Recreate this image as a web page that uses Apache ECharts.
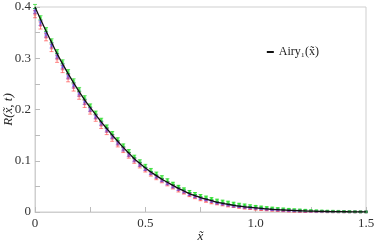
<!DOCTYPE html>
<html>
<head>
<meta charset="utf-8">
<script src="https://cdn.jsdelivr.net/npm/echarts@6/dist/echarts.min.js"></script>
<style>
  html, body { margin: 0; padding: 0; background: #fff; }
  #chart { width: 374px; height: 248px; }
</style>
</head>
<body>
<div id="chart"></div>
<script>
// x positions of the samples
const xs = [0, 0.025, 0.05, 0.075, 0.1, 0.125, 0.15, 0.175, 0.2, 0.225,
  0.25, 0.275, 0.3, 0.325, 0.35, 0.375, 0.4, 0.425, 0.45, 0.475,
  0.5, 0.525, 0.55, 0.575, 0.6, 0.625, 0.65, 0.675, 0.7, 0.725,
  0.75, 0.775, 0.8, 0.825, 0.85, 0.875, 0.9, 0.925, 0.95, 0.975,
  1.0, 1.025, 1.05, 1.075, 1.1, 1.125, 1.15, 1.175, 1.2, 1.225,
  1.25, 1.275, 1.3, 1.325, 1.35, 1.375, 1.4, 1.425, 1.45, 1.475, 1.5]

// Airy_1 reference curve
const airyY = [0.400, 0.376, 0.353, 0.331, 0.309, 0.289, 0.270, 0.252, 0.235, 0.219,
  0.204, 0.190, 0.176, 0.163, 0.150, 0.138, 0.126, 0.115, 0.104, 0.095,
  0.086, 0.078, 0.071, 0.064, 0.058, 0.052, 0.046, 0.041, 0.036, 0.032,
  0.028, 0.025, 0.022, 0.019, 0.017, 0.015, 0.013, 0.0115, 0.010, 0.009,
  0.008, 0.007, 0.006, 0.0052, 0.0045, 0.0039, 0.0033, 0.0028, 0.0024, 0.0020,
  0.0017, 0.0014, 0.0012, 0.0010, 0.0008, 0.0006, 0.0005, 0.0004, 0.0003, 0.0002,
  0.0002]

// simulation data (three runs)
const redY = [0.386, 0.364, 0.341, 0.320, 0.299, 0.279, 0.261, 0.243, 0.227, 0.211,
  0.197, 0.183, 0.169, 0.157, 0.144, 0.132, 0.121, 0.110, 0.100, 0.091,
  0.082, 0.074, 0.067, 0.061, 0.055, 0.049, 0.043, 0.038, 0.033, 0.029,
  0.025, 0.022, 0.019, 0.017, 0.015, 0.013, 0.011, 0.0095, 0.008, 0.007,
  0.006, 0.005, 0.0045, 0.0038, 0.0032, 0.0027, 0.0022, 0.0018, 0.0015, 0.0012,
  0.0010, 0.0008, 0.0007, 0.0005, 0.0004, 0.0003, 0.0002, 0.0002, 0.0001, 0.0001,
  0.0001]
const blueY = [0.392, 0.369, 0.346, 0.325, 0.304, 0.284, 0.265, 0.247, 0.231, 0.215,
  0.200, 0.186, 0.173, 0.160, 0.147, 0.135, 0.123, 0.112, 0.102, 0.093,
  0.084, 0.076, 0.069, 0.062, 0.056, 0.050, 0.045, 0.040, 0.035, 0.031,
  0.027, 0.024, 0.021, 0.018, 0.016, 0.014, 0.012, 0.011, 0.0095, 0.0085,
  0.0075, 0.0065, 0.0056, 0.0048, 0.0042, 0.0036, 0.0031, 0.0026, 0.0022, 0.0019,
  0.0016, 0.0013, 0.0011, 0.0009, 0.0007, 0.0006, 0.0005, 0.0004, 0.0003, 0.0002,
  0.0002]
const greenY = [0.401, 0.379, 0.356, 0.334, 0.313, 0.293, 0.274, 0.256, 0.239, 0.223,
  0.208, 0.194, 0.180, 0.167, 0.154, 0.142, 0.130, 0.119, 0.108, 0.099,
  0.090, 0.082, 0.075, 0.068, 0.062, 0.056, 0.050, 0.045, 0.040, 0.036,
  0.032, 0.029, 0.026, 0.023, 0.021, 0.019, 0.017, 0.015, 0.0135, 0.012,
  0.011, 0.0098, 0.0087, 0.0077, 0.0068, 0.006, 0.0052, 0.0045, 0.0039, 0.0034,
  0.0029, 0.0025, 0.0021, 0.0018, 0.0015, 0.0012, 0.001, 0.0008, 0.0006, 0.0004,
  0.0003]

// error bar half heights
const redErr = [0.007, 0.007, 0.007, 0.007, 0.007, 0.007, 0.007, 0.007, 0.007, 0.007,
  0.006, 0.006, 0.006, 0.006, 0.006, 0.005, 0.005, 0.005, 0.005, 0.005,
  0.004, 0.004, 0.004, 0.004, 0.004, 0.004, 0.004, 0.003, 0.003, 0.003,
  0.003, 0.003, 0.003, 0.003, 0.003, 0.003, 0.002, 0.002, 0.002, 0.002,
  0.002, 0.002, 0.002, 0.002, 0.002, 0.002, 0.002, 0.002, 0.002, 0.002,
  0.001, 0.001, 0.001, 0.001, 0.001, 0.001, 0.001, 0.001, 0.001, 0.001,
  0.001]
const blueErr = [0.005, 0.005, 0.005, 0.005, 0.005, 0.005, 0.005, 0.005, 0.005, 0.005,
  0.004, 0.004, 0.004, 0.004, 0.004, 0.004, 0.004, 0.004, 0.004, 0.004,
  0.003, 0.003, 0.003, 0.003, 0.003, 0.003, 0.003, 0.003, 0.003, 0.003,
  0.002, 0.002, 0.002, 0.002, 0.002, 0.002, 0.002, 0.002, 0.002, 0.002,
  0.0015, 0.0015, 0.0015, 0.0015, 0.0015, 0.0015, 0.0015, 0.0015, 0.0015, 0.0015,
  0.001, 0.001, 0.001, 0.001, 0.001, 0.001, 0.001, 0.001, 0.001, 0.001,
  0.001]
const greenErr = [0.004, 0.004, 0.004, 0.004, 0.004, 0.004, 0.004, 0.004, 0.004, 0.004,
  0.003, 0.003, 0.003, 0.003, 0.003, 0.003, 0.003, 0.003, 0.003, 0.003,
  0.003, 0.003, 0.003, 0.003, 0.003, 0.002, 0.002, 0.002, 0.002, 0.002,
  0.002, 0.002, 0.002, 0.002, 0.002, 0.002, 0.002, 0.002, 0.002, 0.002,
  0.0015, 0.0015, 0.0015, 0.0015, 0.0015, 0.0015, 0.0015, 0.0015, 0.0015, 0.0015,
  0.001, 0.001, 0.001, 0.001, 0.001, 0.001, 0.001, 0.001, 0.001, 0.001,
  0.001]

const FONT = 'Liberation Serif'

const chart = echarts.init(document.getElementById('chart'), null, { renderer: 'canvas' })

const pairs = (ys) => xs.map((x, i) => [x, ys[i]])
const errData = (ys, es) => xs.map((x, i) => [x, ys[i], es[i]])

const errorBars = (name, color, ys, es) => ({
  name: name,
  type: 'custom',
  silent: true,
  z: 2,
  data: errData(ys, es),
  renderItem: (params, api) => {
    const x = api.value(0)
    const y = api.value(1)
    const e = api.value(2)
    const lo = api.coord([x, y - e])
    const hi = api.coord([x, y + e])
    const w = 2
    const style = { stroke: color, lineWidth: 1 }
    return {
      type: 'group',
      children: [
        { type: 'line', shape: { x1: lo[0], y1: lo[1], x2: hi[0], y2: hi[1] }, style: style },
        { type: 'line', shape: { x1: lo[0] - w, y1: lo[1], x2: lo[0] + w, y2: lo[1] }, style: style },
        { type: 'line', shape: { x1: hi[0] - w, y1: hi[1], x2: hi[0] + w, y2: hi[1] }, style: style },
      ],
    }
  },
})

const markers = (name, color, ys) => ({
  name: name,
  type: 'scatter',
  symbol: 'rect',
  symbolSize: 3,
  z: 3,
  silent: true,
  itemStyle: { color: color },
  data: pairs(ys),
})

const option = {
  animation: false,
  grid: {
    left: 35, right: 8, top: 7, bottom: 36,
    outerBoundsMode: 'none',
    containLabel: false,
    show: true, borderColor: '#cfcfcf', borderWidth: 1,
  },
  legend: {
    data: ['Airy₁(x̃)'],
    right: 50, top: 41,
    itemWidth: 7, itemHeight: 2, itemGap: 3,
    icon: 'rect',
    textStyle: { fontFamily: FONT, fontSize: 12, color: '#222' },
  },
  xAxis: {
    type: 'value',
    min: 0, max: 1.5, interval: 0.25,
    name: 'x̃',
    nameLocation: 'middle',
    nameGap: 18,
    nameMoveOverlap: false,
    nameTextStyle: { fontFamily: FONT, fontStyle: 'italic', fontSize: 13, color: '#222' },
    axisLine: { lineStyle: { color: '#cfcfcf' } },
    axisTick: { inside: true, length: 5, lineStyle: { color: '#bbb' } },
    splitLine: { show: false },
    axisLabel: {
      fontFamily: FONT, fontSize: 13, color: '#333', margin: 5,
      formatter: (v) => (Math.abs(v * 2 - Math.round(v * 2)) < 1e-6 ? (v === 0 ? '0' : v.toFixed(1)) : ''),
    },
  },
  yAxis: {
    type: 'value',
    min: 0, max: 0.4, interval: 0.05,
    name: 'R(x̃, t)',
    nameLocation: 'middle',
    nameGap: 20,
    nameRotate: 90,
    nameMoveOverlap: false,
    nameTextStyle: { fontFamily: FONT, fontStyle: 'italic', fontSize: 13, color: '#222' },
    axisLine: { show: true, lineStyle: { color: '#cfcfcf' } },
    axisTick: { show: true, inside: true, length: 5, lineStyle: { color: '#bbb' } },
    splitLine: { show: false },
    axisLabel: {
      fontFamily: FONT, fontSize: 13, color: '#333', margin: 4,
      formatter: (v) => (Math.abs(v * 10 - Math.round(v * 10)) < 1e-6 ? (v === 0 ? '0' : v.toFixed(1)) : ''),
    },
  },
  series: [
    errorBars('redErr', 'rgba(255,40,40,0.55)', redY, redErr),
    errorBars('blueErr', 'rgba(40,40,255,0.55)', blueY, blueErr),
    errorBars('greenErr', 'rgba(0,210,0,0.6)', greenY, greenErr),
    markers('red', 'rgba(255,60,60,0.55)', redY),
    markers('blue', 'rgba(60,60,255,0.55)', blueY),
    markers('green', 'rgba(0,220,0,0.6)', greenY),
    {
      name: 'Airy₁(x̃)',
      type: 'line',
      data: pairs(airyY),
      smooth: true,
      showSymbol: false,
      z: 5,
      lineStyle: { color: '#111', width: 1.3 },
      itemStyle: { color: '#111' },
    },
  ],
}

chart.setOption(option)
</script>
</body>
</html>
